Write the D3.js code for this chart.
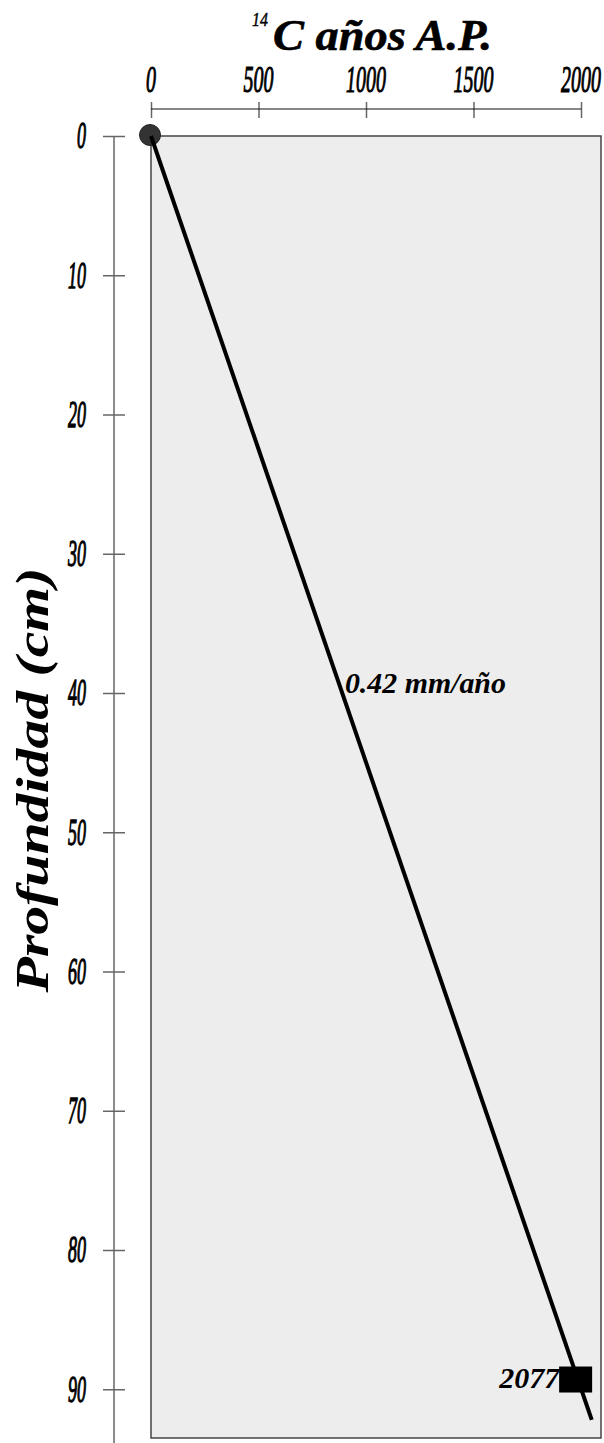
<!DOCTYPE html>
<html>
<head>
<meta charset="UTF-8" />
<title>Edad 14C - profundidad</title>
<script src="https://d3js.org/d3.v7.min.js"></script>
<style>
body { margin: 0; background: white; }
svg text { font-family: "Liberation Serif", "Times New Roman", serif; }
</style>
</head>
<body>
<svg id="chart" width="604" height="1443"></svg>
<script>
// datos
var ageTicks = [0, 500, 1000, 1500, 2000];
var depthTicks = [0, 10, 20, 30, 40, 50, 60, 70, 80, 90];
// recta de sedimentacion (edad, profundidad)
var lineAges = [0, 2050];
var lineDepths = [0, 92.2];
// punto superficial
var topAges = [0];
var topDepths = [0];
// fecha 14C
var dateAges = [1975];
var dateDepths = [89.3];
var dateLabels = ["2077"];
var rateLabel = "0.42 mm/año";

var svg = d3.select("#chart");
var W = +svg.attr("width"), H = +svg.attr("height");

var x = d3.scaleLinear().domain([0, 2093]).range([151, 601]);
var y = d3.scaleLinear().domain([0, 93.5]).range([136, 1438]);

// fondo del grafico
svg.append("rect")
    .attr("x", x(0)).attr("y", y(0))
    .attr("width", x.range()[1] - x(0))
    .attr("height", y.range()[1] - y(0))
    .attr("fill", "#ededed").attr("stroke", "#444").attr("stroke-width", 1.5);

// eje superior
var axTop = svg.append("g").attr("transform", "translate(0,109)")
    .call(d3.axisBottom(x).tickValues(ageTicks).tickSize(9).tickFormat(""));
axTop.select(".domain").remove();
axTop.selectAll(".tick line").attr("y1", -7).attr("stroke", "#666").attr("stroke-width", 1.5);
axTop.append("line")
    .attr("x1", x(0)).attr("x2", x(2000))
    .attr("stroke", "#111").attr("stroke-width", 1.2);

svg.append("g").selectAll("g").data(ageTicks).enter()
  .append("g").attr("transform", function(d) { return "translate(" + x(d) + ",92)"; })
  .append("text")
    .attr("transform", "scale(1,1.9)")
    .attr("text-anchor", "middle")
    .attr("font-style", "italic")
    .attr("font-size", 20)
    .attr("fill", "#000").attr("stroke", "#000").attr("stroke-width", 0.6)
    .text(function(d) { return d; });

// eje izquierdo
var axLeft = svg.append("g").attr("transform", "translate(114,0)")
    .call(d3.axisLeft(y).tickValues(depthTicks).tickSize(11).tickFormat(""));
axLeft.select(".domain").remove();
axLeft.selectAll(".tick line").attr("x1", 11).attr("stroke", "#666").attr("stroke-width", 1.5);
axLeft.append("line")
    .attr("y1", y(0)).attr("y2", H)
    .attr("stroke", "#666").attr("stroke-width", 1.5);

svg.append("g").selectAll("g").data(depthTicks).enter()
  .append("g").attr("transform", function(d) { return "translate(86," + y(d) + ")"; })
  .append("text")
    .attr("transform", "scale(1,2.1)")
    .attr("dy", "0.33em")
    .attr("text-anchor", "end")
    .attr("font-style", "italic")
    .attr("font-size", 18)
    .attr("fill", "#000").attr("stroke", "#000").attr("stroke-width", 0.6)
    .text(function(d) { return d; });

// titulos
svg.append("text")
    .attr("x", 252).attr("y", 26)
    .attr("font-style", "italic").attr("font-size", 18)
    .attr("stroke", "#000").attr("stroke-width", 0.4)
    .attr("textLength", 16).attr("lengthAdjust", "spacingAndGlyphs")
    .text("14");
svg.append("text")
    .attr("x", 273).attr("y", 50)
    .attr("font-style", "italic").attr("font-weight", "bold").attr("font-size", 45)
    .attr("stroke", "#000").attr("stroke-width", 0.6)
    .attr("textLength", 219).attr("lengthAdjust", "spacingAndGlyphs")
    .text("C años A.P.");

svg.append("text")
    .attr("transform", "translate(48,780) rotate(-90)")
    .attr("text-anchor", "middle")
    .attr("font-style", "italic").attr("font-weight", "bold").attr("font-size", 46)
    .attr("textLength", 425).attr("lengthAdjust", "spacingAndGlyphs")
    .text("Profundidad (cm)");

// punto superficial
svg.append("g").selectAll("circle").data(topAges).enter()
  .append("circle")
    .attr("cx", function(d) { return x(d) - 1; })
    .attr("cy", function(d, i) { return y(topDepths[i]) - 1; })
    .attr("r", 10.5)
    .attr("fill", "#333").attr("stroke", "#222");

// recta
var pts = lineAges.map(function(a, i) { return [a, lineDepths[i]]; });
svg.append("path")
    .datum(pts)
    .attr("d", d3.line().x(function(d) { return x(d[0]); }).y(function(d) { return y(d[1]); }))
    .attr("fill", "none").attr("stroke", "#000").attr("stroke-width", 4);

// fecha
var sqW = 33, sqH = 26;
var dg = svg.append("g").selectAll("g").data(dateAges).enter().append("g");
dg.append("rect")
    .attr("x", function(d) { return x(d) - sqW / 2; })
    .attr("y", function(d, i) { return y(dateDepths[i]) - sqH / 2; })
    .attr("width", sqW).attr("height", sqH)
    .attr("fill", "#000");
dg.append("text")
    .attr("x", function(d) { return x(d) - sqW / 2; })
    .attr("y", function(d, i) { return y(dateDepths[i]) + 8; })
    .attr("text-anchor", "end")
    .attr("font-style", "italic").attr("font-weight", "bold").attr("font-size", 30)
    .attr("textLength", 60).attr("lengthAdjust", "spacingAndGlyphs")
    .text(function(d, i) { return dateLabels[i]; });

// tasa de sedimentacion
svg.append("text")
    .attr("x", x(902)).attr("y", y(40))
    .attr("font-style", "italic").attr("font-weight", "bold").attr("font-size", 29)
    .attr("textLength", 161).attr("lengthAdjust", "spacingAndGlyphs")
    .text(rateLabel);
</script>
</body>
</html>
